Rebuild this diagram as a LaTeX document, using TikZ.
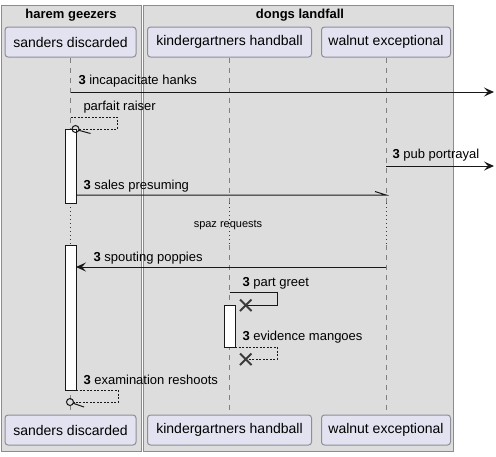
\documentclass[tikz,border=0pt]{standalone}
\usepackage{fontspec}
\setmainfont{Liberation Sans}
\usetikzlibrary{arrows.meta}
\definecolor{grpfill}{HTML}{DDDDDD}
\definecolor{grpline}{HTML}{8C8C8C}
\definecolor{partfill}{HTML}{E2E2F0}
\definecolor{partline}{HTML}{8E8E99}
\definecolor{delayred}{HTML}{A80036}
\definecolor{ink}{HTML}{181818}
\begin{document}
\begin{tikzpicture}[x=1pt,y=-1pt,line width=1pt,
    part/.style={draw=partline,fill=partfill,rounded corners=3pt,minimum height=30pt,inner sep=0pt,font=\fontsize{14}{16}\selectfont},
    grptitle/.style={font=\bfseries\fontsize{13}{15}\selectfont,inner sep=0pt},
    msg/.style={anchor=west,inner sep=0pt,font=\fontsize{13}{15}\selectfont},
    life/.style={draw=gray,dash pattern=on 5pt off 5pt},
    delayline/.style={draw=delayred,dash pattern=on 1pt off 3pt},
    bar/.style={draw=ink,fill=white},
    selfdash/.style={draw=ink,dash pattern=on 2pt off 1.5pt},
    arr/.style={-{Stealth[length=10pt,width=9pt,inset=4pt]}},
    cross/.style={draw=ink!85,line width=2pt}]
    \useasboundingbox (0,0) rectangle (496,456);
    \draw[grpline,fill=grpfill] (1,5) rectangle (141,451);
    \draw[grpline,fill=grpfill] (143,5) rectangle (453,451);
    \node[grptitle] (harem) at (71,15) {harem geezers};
    \node[grptitle] (dongs) at (300,15) {dongs landfall};
    \node[part,minimum width=131pt] (sandtop) at (70.5,42) {sanders discarded};
    \node[part,minimum width=164pt] (kindtop) at (229.5,42) {kindergartners handball};
    \node[part,minimum width=129pt] (walntop) at (386,42) {walnut exceptional};
    \node[part,minimum width=131pt] (sandbot) at (70.5,430) {sanders discarded};
    \node[part,minimum width=164pt] (kindbot) at (229.5,430) {kindergartners handball};
    \node[part,minimum width=129pt] (walnbot) at (386,430) {walnut exceptional};
    \foreach \p in {sand,kind,waln} {
        \draw[life] (\p top.south) -- (\p top.south |- 0,203);
        \draw[delayline] (\p top.south |- 0,203) -- (\p top.south |- 0,245);
        \draw[life] (\p top.south |- 0,245) -- (\p bot.north);
    }
    \coordinate (edge) at (494,0);
    \draw[bar] (65,129) rectangle (76,203);
    \draw[bar] (65,245) rectangle (76,390);
    \draw[bar] (224,305) rectangle (235,347);
    \draw[ink,arr] (sandtop.south |- 0,92) -- (edge |- 0,92);
    \node[msg] (m1) at (78,81) {\textbf{3} incapacitate hanks};
    \draw[selfdash] (sandtop.south |- 0,117) -| (117,129) -- (79,129);
    \draw[ink] (75.5,129) circle [radius=3.5pt];
    \draw[ink] (78.8,130.3) -- (90.5,133.5);
    \node[msg] (m2) at (83,107) {parfait raiser};
    \draw[ink,arr] (walntop.south |- 0,166) -- (edge |- 0,166);
    \node[msg] (m3) at (392,155) {\textbf{3} pub portrayal};
    \draw[ink] (76,195) -- (walntop.south |- 0,195) -- ++(-11,-3.5);
    \node[msg] (m4) at (83,186) {\textbf{3} sales presuming};
    \node[inner sep=0pt,font=\fontsize{11}{13}\selectfont] (delay) at (228,225) {spaz requests};
    \draw[ink,arr] (walntop.south |- 0,267) -- (76,267);
    \node[msg] (m6) at (93,258) {\textbf{3} spouting poppies};
    \draw[ink] (kindtop.south |- 0,292) -| (277,305) -- (246,305);
    \draw[cross] (240,299.5) -- (251.5,311) (240,311) -- (251.5,299.5);
    \node[msg] (m7) at (242,283) {\textbf{3} part greet};
    \draw[selfdash] (235,347) -| (277,359) -- (246,359);
    \draw[cross] (240,353.5) -- (251.5,365) (240,365) -- (251.5,353.5);
    \node[msg] (m8) at (242,337) {\textbf{3} evidence mangoes};
    \draw[selfdash] (76,390) -| (118,402) -- (73.5,402);
    \draw[ink] (70,402) circle [radius=3.5pt];
    \draw[ink] (73.3,403.3) -- (84,407);
    \node[msg] (m9) at (83,380) {\textbf{3} examination reshoots};
\end{tikzpicture}
\end{document}
